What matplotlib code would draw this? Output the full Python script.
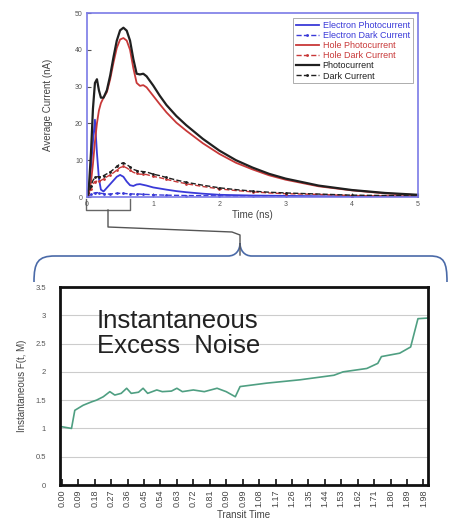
import numpy as np
import matplotlib
matplotlib.use("Agg")
import matplotlib.pyplot as plt
from matplotlib.path import Path
import matplotlib.patches as patches

plt.rcParams['font.family'] = ['Liberation Sans', 'DejaVu Sans']

# ---- top panel: average currents (nA) vs time (ns)
time_ns = [0, 0.03, 0.06, 0.09, 0.12, 0.15, 0.18, 0.21, 0.25, 0.3, 0.35, 0.4, 0.45,
           0.5, 0.55, 0.6, 0.65, 0.7, 0.75, 0.8, 0.85, 0.9, 1.0, 1.1, 1.2, 1.35, 1.5,
           1.75, 2.0, 2.25, 2.5, 2.75, 3.0, 3.5, 4.0, 4.5, 5.0]
electron_photo = [0, 2, 8, 15, 21, 12, 5, 2, 1.5, 2.5, 3.5, 4.5, 5.5,
                  6, 5.5, 4.2, 3.2, 3, 3.4, 3.5, 3.3, 3.1, 2.6, 2.3, 2.0, 1.6, 1.3,
                  0.9, 0.6, 0.5, 0.4, 0.35, 0.3, 0.2, 0.2, 0.15, 0.1]
electron_dark = [0, 0.3, 0.7, 1, 1.1, 1.2, 1.1, 1, 0.9, 0.8, 0.8, 0.9, 1,
                 1, 1, 0.9, 0.9, 0.8, 0.8, 0.8, 0.7, 0.7, 0.6, 0.55, 0.5, 0.45, 0.4,
                 0.35, 0.3, 0.25, 0.2, 0.2, 0.2, 0.1, 0.1, 0.1, 0.1]
hole_photo = [0, 1, 4, 9, 15, 20, 23.5, 25.5, 27, 28.5, 32, 36.5, 40.5,
              42.8, 43.2, 42.5, 40, 35, 31, 30.2, 30.4, 29.8, 27.5, 25.2, 23, 20.2, 18,
              14.6, 11.7, 9.3, 7.5, 5.9, 4.7, 2.9, 1.8, 1.0, 0.5]
hole_dark = [0, 0.7, 2.3, 3.5, 4.2, 4.3, 4.4, 4.5, 4.9, 5.5, 6.0, 6.6, 7.3,
             8.0, 8.3, 7.9, 7.3, 6.7, 6.4, 6.2, 6.2, 6.1, 5.6, 5.25, 4.8, 4.15, 3.6,
             2.85, 2.2, 1.75, 1.4, 1.1, 0.9, 0.7, 0.4, 0.3, 0.2]
photocurrent = [0, 3, 12, 24, 31, 32, 29, 27, 27, 29, 33, 38, 42.5,
                45.3, 46, 45.2, 42.5, 37.5, 33.5, 33.3, 33.5, 32.8, 30.3, 27.5, 25, 22, 19.5,
                15.8, 12.6, 10, 8, 6.3, 5, 3.1, 1.9, 1.1, 0.6]
dark_current = [0, 1, 3, 4.5, 5.3, 5.5, 5.5, 5.5, 5.8, 6.3, 6.8, 7.5, 8.3,
                9, 9.3, 8.8, 8.2, 7.5, 7.2, 7, 6.9, 6.8, 6.2, 5.8, 5.3, 4.6, 4,
                3.2, 2.5, 2, 1.6, 1.3, 1.1, 0.8, 0.5, 0.4, 0.3]

# ---- bottom panel: instantaneous excess noise vs transit time
transit = [0, 0.053, 0.071, 0.117, 0.163, 0.19, 0.227, 0.263, 0.29, 0.325, 0.355, 0.38,
           0.42, 0.445, 0.47, 0.52, 0.55, 0.6, 0.63, 0.66, 0.72, 0.78, 0.85, 0.9,
           0.95, 0.976, 1.12, 1.305, 1.49, 1.54, 1.67, 1.73, 1.75, 1.85, 1.91, 1.95, 2.0]
noise_F = [1.03, 1.0, 1.32, 1.41, 1.47, 1.5, 1.56, 1.65, 1.59, 1.62, 1.71, 1.62,
           1.64, 1.71, 1.62, 1.68, 1.65, 1.66, 1.71, 1.65, 1.68, 1.65, 1.71, 1.65,
           1.56, 1.74, 1.80, 1.86, 1.94, 2.0, 2.06, 2.15, 2.27, 2.33, 2.44, 2.94, 2.95]
transit_ticks = [0.00, 0.09, 0.18, 0.27, 0.36, 0.45, 0.54, 0.63, 0.72, 0.81, 0.90, 0.99,
                 1.08, 1.17, 1.26, 1.35, 1.44, 1.53, 1.62, 1.71, 1.80, 1.89, 1.98]
noise_yticks = [0, 0.5, 1, 1.5, 2, 2.5, 3, 3.5]
noise_ylabels = ['0', '0.5', '1', '1.5', '2', '2.5', '3', '3.5']

BLUE = '#3a3ad8'
RED = '#c83838'
BLACK = '#202020'

W, H = 453, 527
fig = plt.figure(figsize=(W / 100, H / 100), dpi=100)

# top axes
ax1 = fig.add_axes([87 / W, 1 - 197 / H, (418 - 87) / W, (197 - 13) / H])
for s in ax1.spines.values():
    s.set_color('#7a7ae6')
    s.set_linewidth(1.2)

ax1.plot(time_ns, electron_photo, color=BLUE, lw=1.3, label='Electron Photocurrent')
ax1.plot(time_ns, electron_dark, color=BLUE, lw=1.0, ls='--', marker='.', ms=2,
         markevery=2, label='Electron Dark Current')
ax1.plot(time_ns, hole_photo, color=RED, lw=1.3, label='Hole Photocurrent')
ax1.plot(time_ns, hole_dark, color=RED, lw=1.0, ls='--', marker='.', ms=2,
         markevery=2, label='Hole Dark Current')
ax1.plot(time_ns, photocurrent, color=BLACK, lw=1.6, label='Photocurrent')
ax1.plot(time_ns, dark_current, color=BLACK, lw=1.0, ls='--', marker='.', ms=2,
         markevery=2, label='Dark Current')

ax1.set_xlim(0, 5)
ax1.set_ylim(0, 50)
ax1.set_xticks(range(6))
ax1.set_yticks(range(0, 51, 10))
ax1.tick_params(direction='in', length=3, labelsize=5, colors='#555555', pad=3)
ax1.set_xlabel('Time (ns)', fontsize=7, color='#444444', labelpad=1)
ax1.set_ylabel('Average Current (nA)', fontsize=7, color='#444444', labelpad=16)

leg = ax1.legend(loc='upper right', fontsize=6.5, frameon=True, fancybox=False,
                 edgecolor='#888888', labelspacing=0.12, handlelength=2.6,
                 handletextpad=0.4, borderpad=0.3, borderaxespad=0.6)
leg.get_frame().set_linewidth(0.6)
for txt, col in zip(leg.get_texts(), [BLUE, BLUE, RED, RED, BLACK, BLACK]):
    txt.set_color(col)

# bottom axes
ax2 = fig.add_axes([60 / W, 1 - 485 / H, (428 - 60) / W, (485 - 287) / H])
for s in ax2.spines.values():
    s.set_color('#111111')
    s.set_linewidth(2)
ax2.plot(transit, noise_F, color='#4f9f82', lw=1.2)
ax2.set_xlim(-0.01, 2.005)
ax2.set_ylim(0, 3.5)
ax2.set_yticks(noise_yticks)
ax2.set_yticklabels(noise_ylabels)
ax2.set_xticks(transit_ticks)
ax2.set_xticklabels([f'{v:.2f}' for v in transit_ticks], rotation=90)
ax2.grid(axis='y', color='#cccccc', lw=0.8)
ax2.set_axisbelow(True)
ax2.tick_params(axis='x', direction='in', length=4, width=1.2, labelsize=6.5,
                colors='#111111', labelcolor='#444444', pad=3)
ax2.tick_params(axis='y', length=0, labelsize=5.5, labelcolor='#555555', pad=10)
ax2.set_xlabel('Transit Time', fontsize=7, color='#444444', labelpad=2)
ax2.set_ylabel('Instantaneous F(t, M)', fontsize=7, color='#444444', labelpad=6)
ax2.text(0.1, 0.89, 'Instantaneous\nExcess  Noise', transform=ax2.transAxes,
         fontsize=18.5, color='#222222', va='top', ha='left', linespacing=1.05)

# overlay for brackets, in pixel coordinates
ov = fig.add_axes([0, 0, 1, 1], zorder=-1)
ov.set_xlim(0, W)
ov.set_ylim(H, 0)
ov.axis('off')

# small bracket under the first part of the time axis
ov.plot([86, 86, 130, 130], [199, 210, 210, 199], color='#666666', lw=1)
ov.plot([108, 108, 232, 240, 240], [210, 227, 232, 235, 255], color='#555555', lw=1)

# big curly brace above the bottom panel
verts = [(34, 282), (34, 262), (38, 256), (55, 256),
         (228, 256), (236, 256), (240, 250), (240, 243),
         (240, 250), (244, 256), (252, 256),
         (430, 256), (444, 256), (447, 262), (447, 282)]
codes = [Path.MOVETO, Path.CURVE4, Path.CURVE4, Path.CURVE4,
         Path.LINETO, Path.CURVE4, Path.CURVE4, Path.CURVE4,
         Path.CURVE4, Path.CURVE4, Path.CURVE4,
         Path.LINETO, Path.CURVE4, Path.CURVE4, Path.CURVE4]
ov.add_patch(patches.PathPatch(Path(verts, codes), facecolor='none',
                               edgecolor='#4a6aa8', lw=1.2))

fig.savefig('out.png', dpi=100)
